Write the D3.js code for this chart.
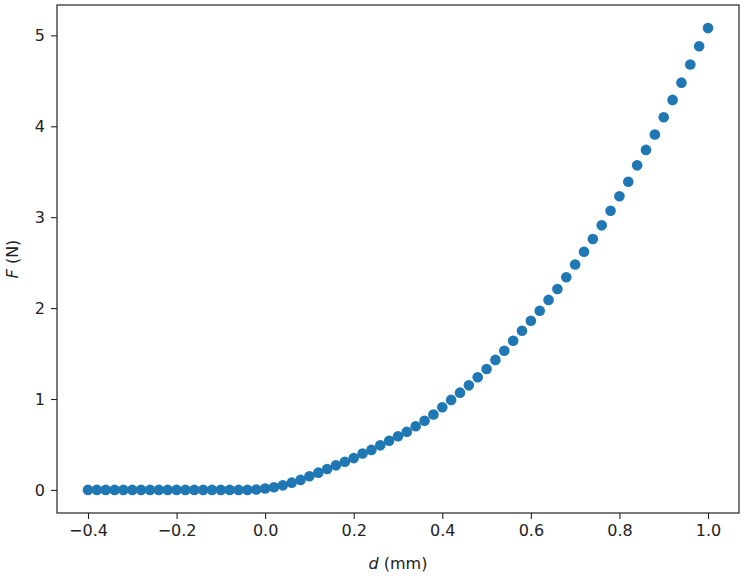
<!DOCTYPE html>
<html>
<head>
<meta charset="utf-8">
<script src="https://cdn.jsdelivr.net/npm/d3@7"></script>
<style>
  body { margin: 0; background: #fff; }
  text { font-family: "DejaVu Sans", sans-serif; fill: #222; }
</style>
</head>
<body>
<svg id="chart" width="751" height="578"></svg>
<script>
// displacement d (mm), step 0.02 from -0.4 to 1.0
const dValues = [
  -0.40, -0.38, -0.36, -0.34, -0.32, -0.30, -0.28, -0.26, -0.24, -0.22,
  -0.20, -0.18, -0.16, -0.14, -0.12, -0.10, -0.08, -0.06, -0.04, -0.02,
   0.00,  0.02,  0.04,  0.06,  0.08,  0.10,  0.12,  0.14,  0.16,  0.18,
   0.20,  0.22,  0.24,  0.26,  0.28,  0.30,  0.32,  0.34,  0.36,  0.38,
   0.40,  0.42,  0.44,  0.46,  0.48,  0.50,  0.52,  0.54,  0.56,  0.58,
   0.60,  0.62,  0.64,  0.66,  0.68,  0.70,  0.72,  0.74,  0.76,  0.78,
   0.80,  0.82,  0.84,  0.86,  0.88,  0.90,  0.92,  0.94,  0.96,  0.98,
   1.00
];

// force F (N)
const fValues = [
  0, 0, 0, 0, 0, 0, 0, 0, 0, 0,
  0, 0, 0, 0, 0, 0, 0, 0, 0, 0.005,
  0.015, 0.03, 0.05, 0.08, 0.11, 0.15, 0.19, 0.23, 0.27, 0.31,
  0.35, 0.40, 0.44, 0.49, 0.54, 0.59, 0.64, 0.70, 0.76, 0.83,
  0.91, 0.99, 1.07, 1.15, 1.24, 1.33, 1.43, 1.53, 1.64, 1.75,
  1.86, 1.97, 2.09, 2.21, 2.34, 2.48, 2.62, 2.76, 2.91, 3.07,
  3.23, 3.39, 3.57, 3.74, 3.91, 4.10, 4.29, 4.48, 4.68, 4.88,
  5.08
];

const xTicks = [-0.4, -0.2, 0.0, 0.2, 0.4, 0.6, 0.8, 1.0];
const yTicks = [0, 1, 2, 3, 4, 5];

const margin = {top: 5, right: 12, bottom: 65, left: 57};
const width = 751 - margin.left - margin.right;
const height = 578 - margin.top - margin.bottom;

const points = dValues.map((d, i) => ({d, f: fValues[i]}));

// matplotlib-like 5% padding
const xPad = (d3.max(dValues) - d3.min(dValues)) * 0.05;
const yPad = (d3.max(fValues) - d3.min(fValues)) * 0.05;

const x = d3.scaleLinear()
    .domain([d3.min(dValues) - xPad, d3.max(dValues) + xPad])
    .range([0, width]);

const y = d3.scaleLinear()
    .domain([d3.min(fValues) - yPad, d3.max(fValues) + yPad])
    .range([height, 0]);

const svg = d3.select('#chart');
const g = svg.append('g')
    .attr('transform', `translate(${margin.left},${margin.top})`);

// points
g.append('g')
  .selectAll('circle')
  .data(points)
  .join('circle')
    .attr('cx', d => x(d.d))
    .attr('cy', d => y(d.f))
    .attr('r', 5.3)
    .attr('fill', '#1f77b4');

// axes
const xAxis = g.append('g')
    .attr('transform', `translate(0,${height})`)
    .call(d3.axisBottom(x)
      .tickValues(xTicks)
      .tickFormat(d => d3.format('.1f')(d).replace('-', '\u2212'))
      .tickSize(6)
      .tickPadding(6));

const yAxis = g.append('g')
    .call(d3.axisLeft(y)
      .tickValues(yTicks)
      .tickFormat(d3.format('d'))
      .tickSize(6)
      .tickPadding(6));

[xAxis, yAxis].forEach(a => {
  a.select('.domain').remove();
  a.selectAll('.tick line').attr('stroke', '#222').attr('stroke-width', 1.1);
  a.selectAll('.tick text')
      .style('font-family', '"DejaVu Sans", sans-serif')
      .style('font-size', '16px')
      .attr('fill', '#222');
});

// frame
g.append('rect')
    .attr('width', width)
    .attr('height', height)
    .attr('fill', 'none')
    .attr('stroke', '#222')
    .attr('stroke-width', 1.2);

// axis labels
svg.append('text')
    .attr('x', margin.left + width / 2)
    .attr('y', 569)
    .attr('text-anchor', 'middle')
    .style('font-size', '16px')
    .call(t => t.append('tspan').attr('font-style', 'italic').text('d'))
    .call(t => t.append('tspan').text(' (mm)'));

svg.append('text')
    .attr('transform', `translate(18,${margin.top + height / 2}) rotate(-90)`)
    .attr('text-anchor', 'middle')
    .style('font-size', '16px')
    .call(t => t.append('tspan').attr('font-style', 'italic').text('F'))
    .call(t => t.append('tspan').text(' (N)'));
</script>
</body>
</html>
